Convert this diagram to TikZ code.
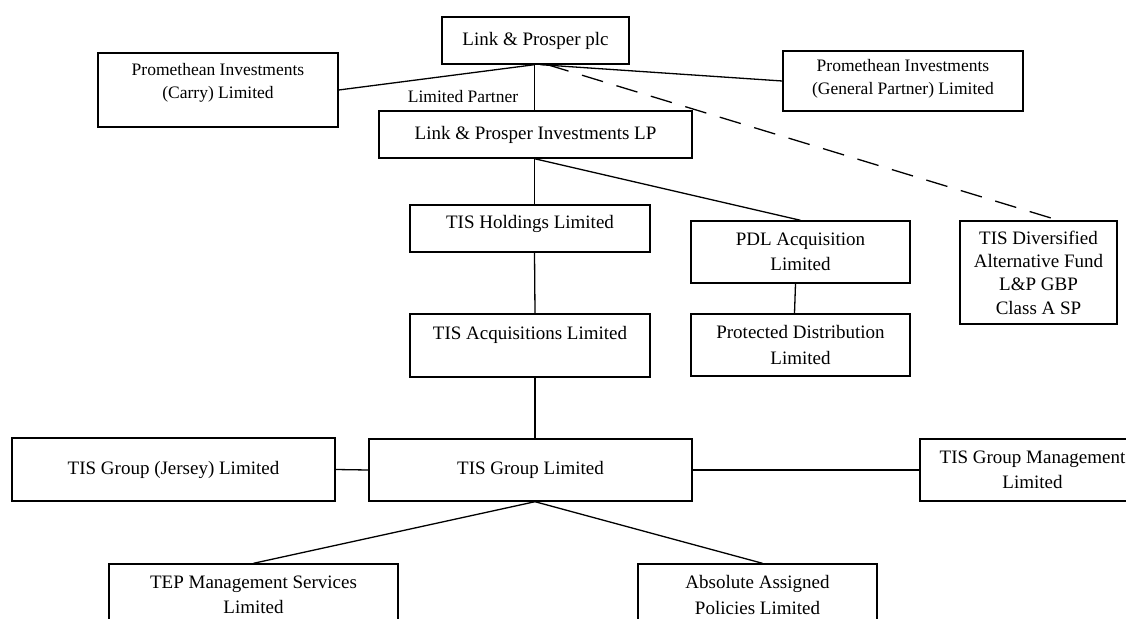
\documentclass[tikz,border=0pt]{standalone}
\usepackage{fontspec}
\setmainfont{Liberation Serif}
\begin{document}
\begin{tikzpicture}[x=1pt,y=-1pt,
  box/.style={draw, line width=1.4pt, inner sep=0pt, align=center, font=\fontsize{19}{25.5}\selectfont},
  smallbox/.style={box, font=\fontsize{17.5}{23.5}\selectfont},
  conn/.style={line width=1.3pt},
  dashconn/.style={conn, dash pattern=on 22pt off 14pt},
  lbl/.style={inner sep=0pt, font=\fontsize{17.5}{21}\selectfont}
]
\useasboundingbox (0,0) rectangle (1126,618);
\clip (0,0) rectangle (1126,618);

\node[box, minimum width=187pt, minimum height=47pt] (plc) at (535.5,40.5) {Link \& Prosper plc};
\node[smallbox, minimum width=240pt, minimum height=74pt, text height=45.5pt, text depth=28.5pt] (carry) at (218,90) {Promethean Investments\\(Carry) Limited};
\node[smallbox, minimum width=240pt, minimum height=60pt, text height=43.5pt, text depth=16.5pt] (gp) at (903,81) {Promethean Investments\\(General Partner) Limited};
\node[lbl] (lp-label) at (463,97) {Limited Partner};
\node[box, minimum width=313pt, minimum height=47pt] (lp) at (535.5,134.5) {Link \& Prosper Investments LP};
\node[box, minimum width=240pt, minimum height=47pt, text height=23pt, text depth=24pt] (hold) at (530,228.5) {TIS Holdings Limited};
\node[box, minimum width=219pt, minimum height=62pt] (pdl) at (800.5,252) {PDL Acquisition\\Limited};
\node[box, minimum width=157pt, minimum height=103pt, font=\fontsize{19}{23.3}\selectfont] (div) at (1038.5,272.5) {TIS Diversified\\Alternative Fund\\L\&P GBP\\Class A SP};
\node[box, minimum width=240pt, minimum height=63pt, text height=25pt, text depth=38pt] (acq) at (530,345.5) {TIS Acquisitions Limited};
\node[box, minimum width=219pt, minimum height=62pt] (prot) at (800.5,345) {Protected Distribution\\Limited};
\node[box, minimum width=323pt, minimum height=63pt] (jersey) at (173.5,469.5) {TIS Group (Jersey) Limited};
\node[box, minimum width=323pt, minimum height=62pt] (group) at (530.5,470) {TIS Group Limited};
\node[box, minimum width=225pt, minimum height=62pt] (mgmt) at (1032.5,470) {TIS Group Management\\Limited};
\node[box, minimum width=289pt, minimum height=62pt] (tep) at (253.5,595) {TEP Management Services\\Limited};
\node[box, minimum width=239pt, minimum height=62pt] (aap) at (757.5,595) {Absolute Assigned\\Policies Limited};

\coordinate (spine) at (534.5,0);

\draw[conn] (plc.south -| spine) -- (lp.north -| spine);
\draw[conn] (plc.south -| spine) -- (carry.east);
\draw[conn] ([xshift=5pt]plc.south) -- (gp.west);
\draw[dashconn] ([xshift=12pt]plc.south) -- ([xshift=20pt]div.north);
\draw[conn] (lp.south -| spine) -- (hold.north -| spine);
\draw[conn] (lp.south -| spine) -- (pdl.north);
\draw[conn] (hold.south -| spine) -- ([xshift=5pt]acq.north);
\draw[conn] ([xshift=-5pt]pdl.south) -- ([xshift=-6pt]prot.north);
\draw[conn] ([xshift=5pt]acq.south) -- ([xshift=4.5pt]group.north);
\draw[conn] (jersey.east) -- (group.west);
\draw[conn] (group.east) -- (mgmt.west);
\draw[conn] ([xshift=4.5pt]group.south) -- (tep.north);
\draw[conn] ([xshift=4.5pt]group.south) -- ([xshift=5pt]aap.north);
\end{tikzpicture}
\end{document}
